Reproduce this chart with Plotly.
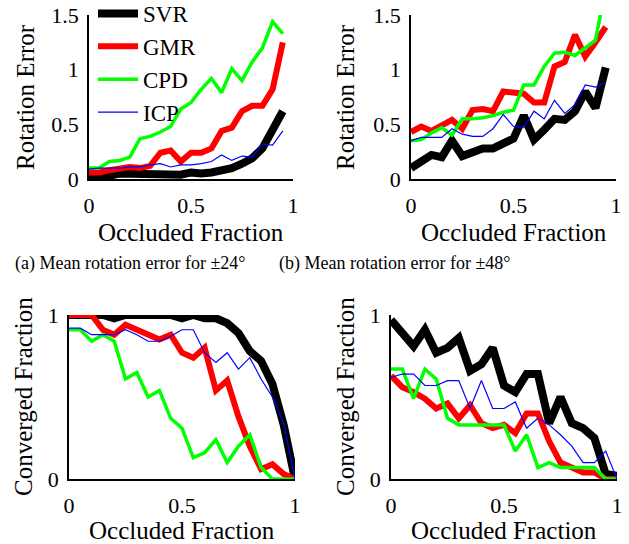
import plotly.graph_objects as go

# ---------------- data ----------------
occ_top = [0.00, 0.05, 0.10, 0.15, 0.20, 0.25, 0.30, 0.35, 0.40, 0.45,
           0.50, 0.55, 0.60, 0.65, 0.70, 0.75, 0.80, 0.85, 0.90, 0.95]
occ_bot = [0.00, 0.05, 0.10, 0.15, 0.20, 0.25, 0.30, 0.35, 0.40, 0.45,
           0.50, 0.55, 0.60, 0.65, 0.70, 0.75, 0.80, 0.85, 0.90, 0.95, 1.00]

methods = ["SVR", "GMR", "CPD", "ICP"]

# (a) mean rotation error, +-24 deg
rot24_svr = [0.02, 0.02, 0.03, 0.05, 0.05, 0.04, 0.04, 0.04, 0.04, 0.04,
             0.06, 0.05, 0.06, 0.08, 0.10, 0.14, 0.19, 0.28, 0.45, 0.62]
rot24_gmr = [0.06, 0.06, 0.08, 0.10, 0.11, 0.10, 0.12, 0.24, 0.26, 0.16,
             0.24, 0.24, 0.28, 0.44, 0.47, 0.62, 0.67, 0.67, 0.82, 1.25]
rot24_cpd = [0.10, 0.10, 0.16, 0.17, 0.20, 0.37, 0.39, 0.43, 0.48, 0.64,
             0.70, 0.82, 0.92, 0.79, 1.01, 0.90, 1.07, 1.20, 1.44, 1.33]
rot24_icp = [0.09, 0.10, 0.10, 0.10, 0.11, 0.11, 0.13, 0.14, 0.11, 0.13,
             0.13, 0.14, 0.16, 0.22, 0.17, 0.21, 0.20, 0.32, 0.31, 0.44]

# (b) mean rotation error, +-48 deg
rot48_svr = [0.10, 0.17, 0.22, 0.20, 0.35, 0.21, 0.25, 0.28, 0.28, 0.32,
             0.37, 0.58, 0.36, 0.45, 0.55, 0.54, 0.62, 0.80, 0.65, 1.02]
rot48_gmr = [0.43, 0.48, 0.44, 0.49, 0.54, 0.46, 0.63, 0.64, 0.62, 0.80,
             0.79, 0.78, 0.70, 0.70, 1.03, 1.07, 1.32, 1.12, 1.25, 1.39]
rot48_cpd = [0.35, 0.36, 0.42, 0.47, 0.40, 0.55, 0.55, 0.56, 0.58, 0.61,
             0.63, 0.86, 0.86, 1.03, 1.15, 1.16, 1.13, 1.20, 1.27, 1.75]
rot48_icp = [0.35, 0.38, 0.38, 0.38, 0.46, 0.41, 0.39, 0.39, 0.46, 0.59,
             0.48, 0.47, 0.62, 0.55, 0.72, 0.60, 0.68, 0.86, 0.84, 0.88]

# (c) converged fraction, +-24 deg
conv24_svr = [1.00, 1.00, 1.00, 1.00, 0.98, 1.00, 1.00, 1.00, 1.00, 1.00,
              0.98, 1.00, 0.98, 0.98, 0.95, 0.89, 0.78, 0.72, 0.58, 0.33, 0.00]
conv24_gmr = [1.00, 1.00, 1.00, 0.91, 0.88, 0.94, 0.91, 0.88, 0.85, 0.88,
              0.77, 0.74, 0.80, 0.54, 0.60, 0.38, 0.20, 0.06, 0.09, 0.03, 0.00]
conv24_cpd = [0.91, 0.91, 0.84, 0.88, 0.84, 0.61, 0.65, 0.50, 0.54, 0.37,
              0.31, 0.13, 0.16, 0.24, 0.10, 0.20, 0.27, 0.07, 0.00, 0.00, 0.00]
conv24_icp = [0.92, 0.92, 0.88, 0.88, 0.88, 0.91, 0.88, 0.84, 0.84, 0.87,
              0.91, 0.91, 0.77, 0.71, 0.77, 0.67, 0.74, 0.61, 0.50, 0.34, 0.00]

# (d) converged fraction, +-48 deg
conv48_svr = [0.97, 0.88, 0.81, 0.91, 0.77, 0.80, 0.86, 0.66, 0.70, 0.80,
              0.57, 0.53, 0.64, 0.64, 0.34, 0.50, 0.34, 0.31, 0.25, 0.03, 0.02]
conv48_gmr = [0.63, 0.56, 0.53, 0.49, 0.43, 0.46, 0.37, 0.45, 0.34, 0.31,
              0.33, 0.28, 0.40, 0.40, 0.23, 0.10, 0.07, 0.04, 0.04, 0.00, 0.00]
conv48_cpd = [0.67, 0.67, 0.49, 0.67, 0.61, 0.37, 0.33, 0.33, 0.33, 0.33,
              0.33, 0.17, 0.27, 0.07, 0.10, 0.07, 0.07, 0.07, 0.07, 0.00, 0.00]
conv48_icp = [0.62, 0.64, 0.64, 0.57, 0.57, 0.60, 0.60, 0.43, 0.60, 0.43,
              0.43, 0.47, 0.31, 0.37, 0.33, 0.27, 0.20, 0.10, 0.10, 0.17, 0.00]

x_ticks = [0, 0.5, 1]
x_ticklabels = ["0", "0.5", "1"]
rot_ticks = [0, 0.5, 1, 1.5]
rot_ticklabels = ["0", "0.5", "1", "1.5"]
conv_ticks = [0, 1]
conv_ticklabels = ["0", "1"]

x_title = "Occluded Fraction"
rot_title = "Rotation Error"
conv_title = "Converged Fraction"
caption_a = "(a) Mean rotation error for ±24°"
caption_b = "(b) Mean rotation error for ±48°"

# ---------------- styling ----------------
W, H = 629, 544
FONT = "Liberation Serif, Times New Roman, serif"
colors = {"SVR": "#000000", "GMR": "#ff0000", "CPD": "#00ff00", "ICP": "#0000ff"}
widths = {"SVR": 8, "GMR": 6, "CPD": 3.5, "ICP": 1.2}


def px(x):
    return x / W


def py(y):
    return 1 - y / H


panels = [
    # (x-axis id, y-axis id, x data, series, x pixel span, y pixel span(top,bottom))
    ("x", "y", occ_top, [rot24_svr, rot24_gmr, rot24_cpd, rot24_icp], (89, 293), (15, 179)),
    ("x2", "y2", occ_top, [rot48_svr, rot48_gmr, rot48_cpd, rot48_icp], (411, 616), (15, 179)),
    ("x3", "y3", occ_bot, [conv24_svr, conv24_gmr, conv24_cpd, conv24_icp], (69, 295), (315, 479)),
    ("x4", "y4", occ_bot, [conv48_svr, conv48_gmr, conv48_cpd, conv48_icp], (391, 617), (315, 479)),
]

fig = go.Figure()
for pi, (xa, ya, xs, series, _, _) in enumerate(panels):
    for name, ys in zip(methods, series):
        fig.add_trace(go.Scatter(
            x=xs, y=ys, mode="lines", name=name,
            line=dict(color=colors[name], width=widths[name], shape="linear"),
            xaxis=xa, yaxis=ya, showlegend=(pi == 0), legendgroup=name,
            hoverinfo="skip",
        ))

layout = dict(
    template="none",
    width=W, height=H,
    margin=dict(l=0, r=0, t=0, b=0, autoexpand=False),
    paper_bgcolor="white", plot_bgcolor="white",
    font=dict(family=FONT, color="black", size=22),
    showlegend=True,
    legend=dict(x=px(93), y=py(-8), xanchor="left", yanchor="top",
                bgcolor="rgba(0,0,0,0)", font=dict(size=23, family=FONT),
                tracegroupgap=0, itemwidth=40, borderwidth=0),
)

annotations = []
for pi, (xa, ya, xs, series, (xl, xr), (yt, yb)) in enumerate(panels):
    suffix = "" if pi == 0 else str(pi + 1)
    top = pi < 2
    layout["xaxis" + suffix] = dict(
        domain=[px(xl), px(xr)], range=[0, 1], anchor=ya, automargin=False,
        tickvals=x_ticks, ticktext=x_ticklabels,
        showline=True, linecolor="black", linewidth=1.5, mirror=False,
        showgrid=False, zeroline=False, ticks="",
        tickfont=dict(size=22, family=FONT), ticklabelstandoff=6,
        ticklabeloverflow="allow",
    )
    layout["yaxis" + suffix] = dict(
        domain=[py(yb), py(yt)], range=[0, 1.5] if top else [0, 1], anchor=xa,
        automargin=False,
        tickvals=rot_ticks if top else conv_ticks,
        ticktext=rot_ticklabels if top else conv_ticklabels,
        showline=True, linecolor="black", linewidth=1.5, mirror=False,
        showgrid=False, zeroline=False, ticks="",
        tickfont=dict(size=22, family=FONT), ticklabelstandoff=4,
        ticklabeloverflow="allow",
    )
    # axis titles
    annotations.append(dict(
        text=x_title, xref="paper", yref="paper",
        x=px((xl + xr) / 2), y=py(232 if top else 530),
        xanchor="center", yanchor="middle", showarrow=False,
        font=dict(size=25, family=FONT),
    ))
    ycx = [25, 345, 23, 345][pi]
    annotations.append(dict(
        text=rot_title if top else conv_title, xref="paper", yref="paper",
        x=px(ycx), y=py((yt + yb) / 2), textangle=-90,
        xanchor="center", yanchor="middle", showarrow=False,
        font=dict(size=25, family=FONT),
    ))

annotations.append(dict(text=caption_a, xref="paper", yref="paper",
                        x=px(130), y=py(263), xanchor="center", yanchor="middle",
                        showarrow=False, font=dict(size=18, family=FONT)))
annotations.append(dict(text=caption_b, xref="paper", yref="paper",
                        x=px(395), y=py(263), xanchor="center", yanchor="middle",
                        showarrow=False, font=dict(size=18, family=FONT)))
layout["annotations"] = annotations

fig.update_layout(**layout)
fig.write_html("out.html",
               config={"displayModeBar": False},
               post_script="document.body.style.margin='0px';"
                           "document.body.style.overflow='hidden';")
